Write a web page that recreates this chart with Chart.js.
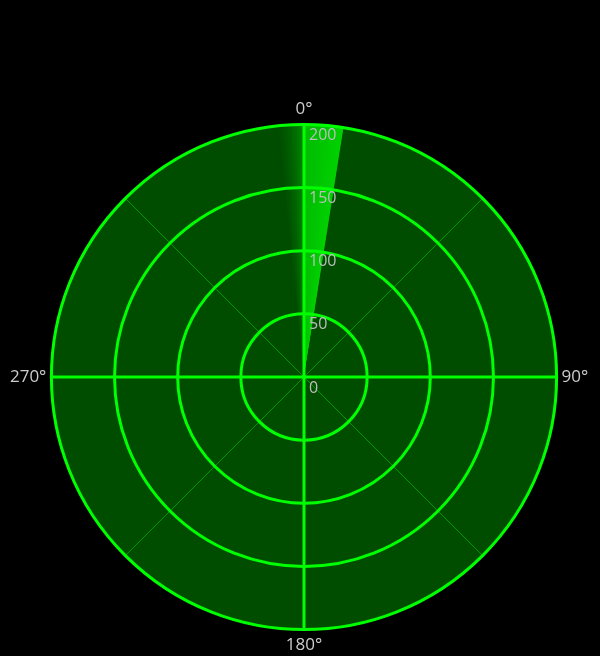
<!DOCTYPE html>
<html>
<head>
<meta charset="utf-8">
<script src="https://cdn.jsdelivr.net/npm/chart.js@4/dist/chart.umd.min.js"></script>
<style>
  html, body { margin: 0; padding: 0; background: #000; }
  #wrap { width: 600px; height: 656px; position: relative; }
</style>
</head>
<body>
<div id="wrap"><canvas id="c"></canvas></div>
<script>
// ---- data ----
const compassLabels = ['0°', '90°', '180°', '270°'];
const compassDegrees = [0, 90, 180, 270];
const rangeTicks = [0, 50, 100, 150, 200];
// radar sweep sectors, clockwise from 0°: beam, empty sky, fading trail
const sectorNames = ['beam', 'sky', 'trail'];
const sectorRange = [200, 0, 200];
const sectorSpan = [9, 345, 6];      // degrees covered by each sector

// ---- build library structures ----
const labels = [];
for (let i = 0; i < 360; i++) {
  const k = compassDegrees.indexOf(i);
  labels.push(k >= 0 ? compassLabels[k] : '');
}

const GREEN = '#00ff00';
const FIELD = '#004d00';
const toRad = d => d * Math.PI / 180;

function sectorColor(ctx) {
  const chart = ctx.chart;
  const s = chart.scales.r;
  if (!s || s.xCenter === undefined || !chart.ctx.createConicGradient) {
    return ctx.dataIndex === 1 ? 'rgba(0,0,0,0)' : 'rgba(0,255,0,0.6)';
  }
  const c = chart.ctx;
  let startDeg = 0;
  for (let i = 0; i < ctx.dataIndex; i++) startDeg += sectorSpan[i];
  const span = sectorSpan[ctx.dataIndex];
  const g = c.createConicGradient(toRad(startDeg - 90), s.xCenter, s.yCenter);
  const f = span / 360;
  if (ctx.dataIndex === 0) {
    g.addColorStop(0, 'rgba(0,255,0,0.62)');
    g.addColorStop(f, 'rgba(0,255,0,0.74)');
    g.addColorStop(Math.min(1, f + 0.001), 'rgba(0,255,0,0)');
  } else if (ctx.dataIndex === 2) {
    g.addColorStop(0, 'rgba(0,255,0,0)');
    g.addColorStop(f * 0.5, 'rgba(0,255,0,0.12)');
    g.addColorStop(f, 'rgba(0,255,0,0.32)');
    g.addColorStop(Math.min(1, f + 0.001), 'rgba(0,255,0,0)');
  } else {
    return 'rgba(0,0,0,0)';
  }
  return g;
}

const radarField = {
  id: 'radarField',
  beforeDraw(chart) {
    const ctx = chart.ctx;
    ctx.save();
    ctx.fillStyle = '#000';
    ctx.fillRect(0, 0, chart.width, chart.height);
    ctx.restore();
  },
  beforeDatasetsDraw(chart) {
    const s = chart.scales.r;
    const ctx = chart.ctx;
    ctx.save();
    ctx.beginPath();
    ctx.arc(s.xCenter, s.yCenter, s.drawingArea, 0, Math.PI * 2);
    ctx.fillStyle = FIELD;
    ctx.fill();
    ctx.restore();
  },
  afterDraw(chart) {
    const s = chart.scales.r;
    const ctx = chart.ctx;
    ctx.save();
    ctx.font = '16px "Open Sans"';
    ctx.fillStyle = '#bdbdbd';
    ctx.textAlign = 'left';
    ctx.textBaseline = 'middle';
    s.ticks.forEach(t => {
      const d = s.getDistanceFromCenterForValue(t.value);
      ctx.fillText(t.label, s.xCenter + 5, s.yCenter - d + 11);
    });
    ctx.restore();
  }
};

new Chart(document.getElementById('c'), {
  type: 'polarArea',
  data: {
    labels: labels,
    datasets: [{
      label: 'sweep',
      data: sectorRange,
      angle: sectorSpan,
      backgroundColor: sectorColor,
      borderWidth: 0
    }]
  },
  options: {
    responsive: true,
    maintainAspectRatio: false,
    animation: false,
    events: [],
    layout: { padding: { top: 99, left: 5, right: 5, bottom: 0 } },
    plugins: { legend: { display: false }, tooltip: { enabled: false } },
    scales: {
      r: {
        min: rangeTicks[0],
        max: rangeTicks[rangeTicks.length - 1],
        startAngle: 0,
        ticks: { display: false, stepSize: 50 },
        grid: { circular: true, color: GREEN, lineWidth: 3, z: 1 },
        angleLines: {
          display: true,
          color: (ctx) => ctx.index % 90 === 0 ? GREEN : 'rgba(0,255,0,0.42)',
          lineWidth: (ctx) => ctx.index % 90 === 0 ? 3 : (ctx.index % 45 === 0 ? 1 : 0)
        },
        pointLabels: {
          display: true,
          centerPointLabels: false,
          color: '#cccccc',
          padding: 5,
          font: { family: 'Open Sans', size: 17 }
        }
      }
    }
  },
  plugins: [radarField]
});
</script>
</body>
</html>
